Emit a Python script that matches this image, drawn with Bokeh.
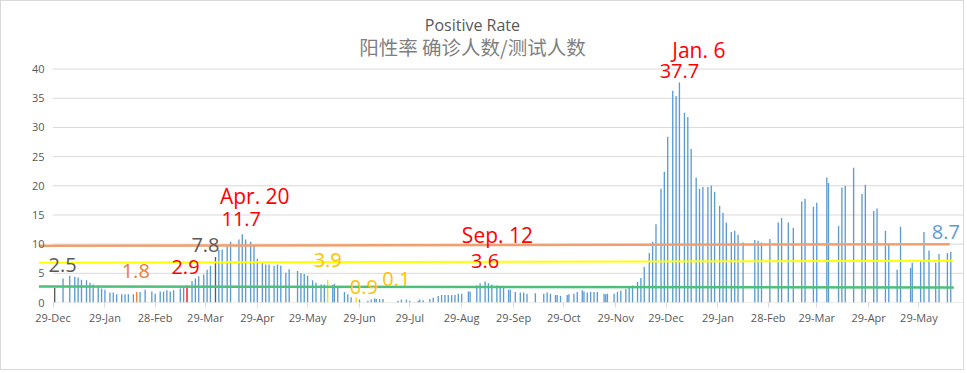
import pandas as pd
from bokeh.plotting import figure
from bokeh.models import Range1d, FixedTicker, DatetimeTickFormatter, Label, ColumnDataSource
from bokeh.embed import file_html
from bokeh.resources import INLINE

# ---------------- data ----------------
dates = [
    "2019-12-30", "2020-01-04", "2020-01-08", "2020-01-11", "2020-01-13", "2020-01-15", "2020-01-18",
    "2020-01-20", "2020-01-22", "2020-01-25", "2020-01-27", "2020-01-29", "2020-02-01", "2020-02-03",
    "2020-02-05", "2020-02-08", "2020-02-10", "2020-02-12", "2020-02-15", "2020-02-17", "2020-02-19",
    "2020-02-22", "2020-02-26", "2020-02-28", "2020-03-02", "2020-03-04", "2020-03-06", "2020-03-08",
    "2020-03-10", "2020-03-14", "2020-03-16", "2020-03-18", "2020-03-21", "2020-03-23", "2020-03-25",
    "2020-03-28", "2020-03-30", "2020-04-01", "2020-04-04", "2020-04-06", "2020-04-08", "2020-04-11",
    "2020-04-13", "2020-04-18", "2020-04-20", "2020-04-22", "2020-04-25", "2020-04-27", "2020-04-29",
    "2020-05-02", "2020-05-04", "2020-05-06", "2020-05-09", "2020-05-11", "2020-05-13", "2020-05-16",
    "2020-05-18", "2020-05-23", "2020-05-25", "2020-05-27", "2020-05-29", "2020-06-01", "2020-06-03",
    "2020-06-06", "2020-06-08", "2020-06-10", "2020-06-13", "2020-06-14", "2020-06-16", "2020-06-20",
    "2020-06-22", "2020-06-24", "2020-06-27", "2020-06-29", "2020-07-04", "2020-07-06", "2020-07-08",
    "2020-07-09", "2020-07-11", "2020-07-13", "2020-07-15", "2020-07-22", "2020-07-24", "2020-07-27",
    "2020-07-29", "2020-08-03", "2020-08-04", "2020-08-06", "2020-08-10", "2020-08-12", "2020-08-15",
    "2020-08-17", "2020-08-19", "2020-08-21", "2020-08-23", "2020-08-25", "2020-08-27", "2020-08-29",
    "2020-09-02", "2020-09-03", "2020-09-07", "2020-09-09", "2020-09-12", "2020-09-14", "2020-09-16",
    "2020-09-19", "2020-09-21", "2020-09-23", "2020-09-26", "2020-09-27", "2020-09-30", "2020-10-03",
    "2020-10-05", "2020-10-07", "2020-10-12", "2020-10-17", "2020-10-19", "2020-10-21", "2020-10-24",
    "2020-10-25", "2020-10-27", "2020-10-31", "2020-11-01", "2020-11-04", "2020-11-06", "2020-11-09",
    "2020-11-10", "2020-11-12", "2020-11-14", "2020-11-16", "2020-11-18", "2020-11-22", "2020-11-23",
    "2020-11-24", "2020-11-28", "2020-11-30", "2020-12-02", "2020-12-05", "2020-12-07", "2020-12-09",
    "2020-12-12", "2020-12-14", "2020-12-16", "2020-12-19", "2020-12-21", "2020-12-23", "2020-12-26",
    "2020-12-28", "2020-12-30", "2021-01-02", "2021-01-04", "2021-01-06", "2021-01-09", "2021-01-11",
    "2021-01-13", "2021-01-16", "2021-01-18", "2021-01-20", "2021-01-23", "2021-01-25", "2021-01-27",
    "2021-01-30", "2021-02-01", "2021-02-03", "2021-02-06", "2021-02-08", "2021-02-10", "2021-02-13",
    "2021-02-20", "2021-02-22", "2021-02-24", "2021-03-01", "2021-03-06", "2021-03-08", "2021-03-12",
    "2021-03-15", "2021-03-20", "2021-03-22", "2021-03-27", "2021-03-29", "2021-04-04", "2021-04-05",
    "2021-04-11", "2021-04-13", "2021-04-15", "2021-04-20", "2021-04-25", "2021-04-27", "2021-05-02",
    "2021-05-04", "2021-05-09", "2021-05-11", "2021-05-16", "2021-05-18", "2021-05-24", "2021-05-25",
    "2021-05-30", "2021-06-01", "2021-06-04", "2021-06-08", "2021-06-10", "2021-06-15", "2021-06-17",
]
values = [
    2.5, 4.1, 4.6, 4.4, 4.3, 3.9, 3.8,
    3.4, 3.1, 2.9, 2.4, 2.2, 1.7, 1.7,
    1.4, 1.4, 1.4, 1.4, 1.4, 1.8, 1.8,
    2.2, 1.9, 1.5, 1.9, 1.9, 2.1, 1.9,
    2.1, 2.4, 2.6, 2.9, 3.7, 4.1, 4.5,
    4.8, 5.6, 6.3, 7.8, 9.0, 9.1, 9.6,
    10.4, 10.8, 11.7, 10.8, 10.4, 9.7, 7.5,
    6.8, 6.5, 6.5, 6.3, 6.5, 6.3, 5.1,
    5.7, 5.4, 5.0, 4.9, 4.6, 3.8, 3.4,
    3.1, 3.1, 3.9, 3.0, 3.2, 2.8, 1.8,
    1.4, 0.9, 0.9, 0.5, 0.3, 0.5, 0.7,
    0.6, 0.6, 0.6, 0.1, 0.3, 0.5, 0.5,
    0.3, 0.3, 0.5, 0.4, 0.6, 0.8, 1.1,
    1.3, 1.3, 1.3, 1.3, 1.3, 1.5, 1.5,
    1.9, 1.9, 2.9, 3.3, 3.6, 3.3, 3.1,
    2.9, 2.8, 2.5, 2.2, 2.2, 1.8, 1.7,
    1.7, 1.5, 1.6, 1.5, 1.7, 1.5, 1.3,
    1.3, 1.1, 1.3, 1.4, 1.5, 1.8, 2.1,
    1.9, 1.7, 1.8, 1.8, 1.8, 1.5, 1.4,
    1.5, 1.5, 1.8, 2.0, 2.3, 2.6, 2.9,
    3.5, 4.2, 6.1, 8.5, 10.4, 13.4, 19.5,
    22.4, 28.4, 36.3, 35.4, 37.7, 32.5, 31.8,
    26.3, 21.4, 19.5, 19.8, 19.8, 20.0, 19.0,
    16.6, 15.4, 13.7, 12.1, 12.3, 11.6, 10.3,
    10.7, 10.6, 10.3, 10.9, 13.7, 14.5, 13.7,
    12.8, 17.3, 17.8, 16.4, 17.1, 21.4, 20.5,
    13.1, 19.7, 20.0, 23.1, 18.6, 20.2, 15.7,
    16.1, 12.3, 9.9, 5.6, 13.0, 5.9, 6.8,
    7.1, 12.1, 8.9, 6.8, 8.3, 8.5, 8.7,
]

# bars drawn in a highlight colour
highlight_dates = ["2019-12-30", "2020-02-17", "2020-03-18", "2020-04-04",
                   "2020-06-10", "2020-06-27", "2020-07-15"]
highlight_colors = ["#595959", "#ED7D31", "#FF0000", "#595959",
                    "#FFD700", "#FFD700", "#FFD700"]

# annotated points
annot_dates = ["2019-12-30", "2020-02-17", "2020-03-18", "2020-04-04", "2020-04-20",
               "2020-06-10", "2020-06-27", "2020-07-15", "2020-09-12", "2021-01-06", "2021-06-17"]
annot_colors = ["#595959", "#ED7D31", "#FF0000", "#595959", "#FF0000",
                "#FFC000", "#FFC000", "#FFC000", "#FF0000", "#FF0000", "#5B9BD5"]
annot_show_date = [False, False, False, False, True, False, False, False, True, True, False]

# hand drawn reference lines (start value, end value)
ref_start = [9.72, 6.8, 2.74]
ref_end = [10.0, 7.15, 2.57]
ref_colors = ["#F0A070", "#FFFF00", "#4CC07A"]

y_ticks = [0, 5, 10, 15, 20, 25, 30, 35, 40]
tick_dates = ["2019-12-29", "2020-01-29", "2020-02-28", "2020-03-29", "2020-04-29", "2020-05-29",
              "2020-06-29", "2020-07-29", "2020-08-29", "2020-09-29", "2020-10-29", "2020-11-29",
              "2020-12-29", "2021-01-29", "2021-02-28", "2021-03-29", "2021-04-29", "2021-05-29"]

title = "Positive Rate"
subtitle = "阳性率 确诊人数/测试人数"

# ---------------- styling / layout ----------------
DAY = 86400000.0


def ms(d):
    return pd.Timestamp(d).timestamp() * 1000.0


base = pd.Timestamp(tick_dates[0])
x_start = ms(base) - 8.66 * DAY
x_end = ms(base) + 544.2 * DAY

p = figure(width=964, height=370, x_axis_type="datetime",
           x_range=Range1d(x_start, x_end), y_range=Range1d(0, 50.04),
           output_backend="svg", toolbar_location=None,
           min_border_left=37, min_border_right=1, min_border_top=9, min_border_bottom=69)
p.styles = {"border": "1px solid #D9D9D9"}
p.outline_line_color = None
p.xgrid.visible = False
p.ygrid.visible = False
p.background_fill_color = "white"
p.border_fill_color = "white"

# gridlines (start at the first date like the original plot area)
grid_x0 = ms(base)
p.segment(x0=[grid_x0] * len(y_ticks), y0=y_ticks, x1=[x_end] * len(y_ticks), y1=y_ticks,
          line_color="#D9D9D9", line_width=1)

# bars
hl = dict(zip(highlight_dates, highlight_colors))
bar_colors = [hl.get(d, "#5B9BD5") for d in dates]
src = ColumnDataSource(dict(date=[ms(d) for d in dates], value=values, color=bar_colors))
p.vbar(x="date", top="value", width=0.8 * DAY, fill_color="color", line_color=None, source=src)

# reference lines
ref_x0 = ms(base) - 8.4 * DAY
ref_x1 = [ms(base) + 535.4 * DAY, ms(base) + 537.2 * DAY, ms(base) + 537.8 * DAY]
ref_widths = [2.5, 2, 2.5]
for s, e, c, xe, w in zip(ref_start, ref_end, ref_colors, ref_x1, ref_widths):
    p.line(x=[ref_x0, xe], y=[s, e], line_color=c, line_width=w)

# annotations
val_offsets = [(8, 23), (-1, 21), (-1.5, 19), (-10, 12), (-1, 15), (0, 20),
               (7.6, 10.4), (10, 23), (0, 20), (0, 12), (-5, 20)]
date_offsets = {"2020-04-20": (12.5, 38), "2020-09-12": (12.3, 46.5), "2021-01-06": (19.4, 32.5)}
vmap = dict(zip(dates, values))
for d, c, show, (dx, dy) in zip(annot_dates, annot_colors, annot_show_date, val_offsets):
    v = vmap[d]
    p.add_layout(Label(x=ms(d), y=v, x_offset=dx, y_offset=dy, text=f"{v:.1f}",
                       text_align="center", text_baseline="middle", text_color=c,
                       text_font="Open Sans", text_font_size="20px"))
    if show:
        ddx, ddy = date_offsets[d]
        ts = pd.Timestamp(d)
        p.add_layout(Label(x=ms(d), y=v, x_offset=ddx, y_offset=ddy,
                           text=f"{ts.strftime('%b')}. {ts.day}",
                           text_align="center", text_baseline="middle", text_color=c,
                           text_font="Open Sans", text_font_size="21px"))

# titles
title_x = ms(base) + 250.4 * DAY
p.add_layout(Label(x=title_x, y=47.5, text=title, text_align="center", text_baseline="middle",
                   text_color="#595959", text_font="Open Sans", text_font_size="16px"))
p.add_layout(Label(x=title_x, y=43.9, text=subtitle, text_align="center", text_baseline="middle",
                   text_color="#7F7F7F", text_font="Noto Sans CJK SC", text_font_size="19.5px"))

# axes
p.yaxis.ticker = FixedTicker(ticks=y_ticks)
p.yaxis.axis_line_color = None
p.yaxis.major_tick_line_color = None
p.yaxis.minor_tick_line_color = None
p.yaxis.major_label_standoff = -12
p.yaxis.major_label_text_font = "Open Sans"
p.yaxis.major_label_text_font_size = "11px"
p.yaxis.major_label_text_color = "#595959"

p.xaxis.ticker = FixedTicker(ticks=[ms(t) for t in tick_dates])
fmt = "%d-%b"
p.xaxis.formatter = DatetimeTickFormatter(days=fmt, months=fmt, years=fmt, hours=fmt,
                                          hourmin=fmt, minutes=fmt, minsec=fmt, seconds=fmt,
                                          milliseconds=fmt, microseconds=fmt)
p.xaxis.axis_line_color = None
p.xaxis.major_tick_out = 5
p.xaxis.major_tick_in = 0
p.xaxis.major_tick_line_color = "#D9D9D9"
p.xaxis.minor_tick_line_color = None
p.xaxis.major_label_standoff = 2
p.xaxis.major_label_text_font = "Open Sans"
p.xaxis.major_label_text_font_size = "11px"
p.xaxis.major_label_text_color = "#595959"

open("out.html", "w").write(file_html(p, INLINE))
